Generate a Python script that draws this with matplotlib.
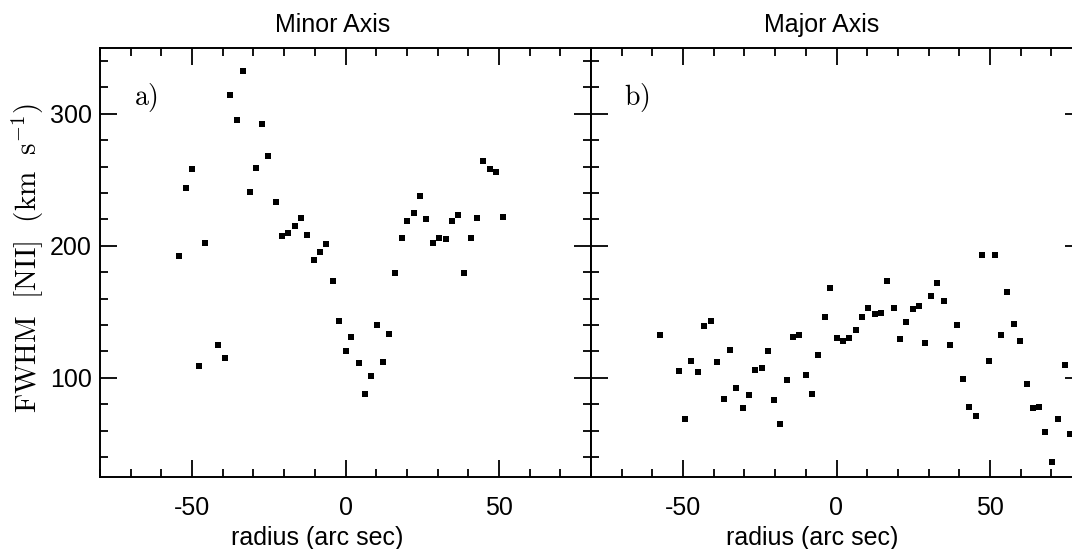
import matplotlib
matplotlib.use("Agg")
import matplotlib.pyplot as plt
from matplotlib.ticker import MultipleLocator

plt.rcParams["font.family"] = ["Liberation Sans", "DejaVu Sans"]
plt.rcParams["mathtext.fontset"] = "cm"
plt.rcParams["axes.unicode_minus"] = False

# panel a: minor axis
minor_r = [-54.1, -51.9, -50.0, -47.6, -45.7, -41.5, -39.4, -37.6, -35.5, -33.3,
           -31.2, -29.2, -27.3, -25.1, -22.7, -20.8, -18.6, -16.6, -14.6, -12.5,
           -10.3, -8.3, -6.3, -4.2, -2.2, 0.0, 1.9, 4.3, 6.2, 8.2,
           10.2, 12.3, 14.3, 16.2, 18.3, 20.2, 22.3, 24.4, 26.3, 28.4,
           30.6, 32.6, 34.6, 36.7, 38.7, 40.9, 43.0, 44.9, 47.1, 49.1, 51.3]
minor_fwhm = [192, 244, 258, 109, 202, 125, 115, 314, 295, 332,
              241, 259, 292, 268, 233, 207, 210, 215, 221, 208,
              189, 195, 201, 173, 143, 120, 131, 111, 88, 101,
              140, 112, 133, 179, 206, 219, 225, 238, 220, 202,
              206, 205, 219, 223, 179, 206, 221, 264, 258, 256, 222]

# panel b: major axis
major_r = [-57.6, -51.4, -49.3, -47.3, -45.2, -43.1, -41.0, -38.9, -36.8, -34.7,
           -32.7, -30.6, -28.4, -26.5, -24.4, -22.4, -20.4, -18.3, -16.2, -14.2,
           -12.2, -10.1, -8.0, -6.0, -3.9, -2.0, 0.1, 2.1, 4.2, 6.3,
           8.4, 10.4, 12.5, 14.6, 16.5, 18.7, 20.7, 22.8, 24.9, 26.9,
           29.0, 30.8, 32.9, 35.0, 37.1, 39.2, 41.3, 43.3, 45.4, 47.5,
           49.7, 51.5, 53.7, 55.7, 57.8, 59.8, 62.0, 64.0, 66.1, 68.1,
           70.1, 72.2, 74.3, 76.2]
major_fwhm = [132, 105, 69, 113, 104, 139, 143, 112, 84, 121,
              92, 77, 87, 106, 107, 120, 83, 65, 98, 131,
              132, 102, 88, 117, 146, 168, 130, 128, 130, 136,
              146, 153, 148, 149, 173, 153, 129, 142, 152, 154,
              126, 162, 172, 158, 125, 140, 99, 78, 71, 193,
              113, 193, 132, 165, 141, 128, 95, 77, 78, 59,
              36, 69, 110, 57]

W, H = 1072, 549
fig = plt.figure(figsize=(W / 100, H / 100), dpi=100)


def box(x0, y0, x1, y1):
    return [x0 / W, 1 - y1 / H, (x1 - x0) / W, (y1 - y0) / H]


ax1 = fig.add_axes(box(100, 47.7, 591, 476.7))
ax2 = fig.add_axes(box(591, 47.7, 1082, 476.7))

for ax, r, v, tag in [(ax1, minor_r, minor_fwhm, "a)"), (ax2, major_r, major_fwhm, "b)")]:
    ax.plot(r, v, "s", color="black", ms=5, mew=0)
    ax.set_xlim(-80, 80)
    ax.set_ylim(25, 350)
    ax.xaxis.set_major_locator(MultipleLocator(50))
    ax.xaxis.set_minor_locator(MultipleLocator(10))
    ax.yaxis.set_major_locator(MultipleLocator(100))
    ax.yaxis.set_minor_locator(MultipleLocator(20))
    ax.tick_params(which="both", direction="in", top=True, right=True,
                   width=1.3, color="black")
    ax.tick_params(which="major", length=12)
    ax.tick_params(which="minor", length=5.8)
    ax.tick_params(axis="x", which="major", pad=14, labelsize=18)
    ax.tick_params(axis="y", which="major", pad=6, labelsize=18)
    for s in ax.spines.values():
        s.set_linewidth(1.4)
    ax.text(0.094, 0.885, r"$\mathrm{" + tag + "}$", transform=ax.transAxes,
            ha="center", va="center", fontsize=20)

ax2.tick_params(axis="y", labelleft=False)

fig.text(333 / W, 1 - 32 / H, "Minor Axis", ha="center", va="baseline", fontsize=18)
fig.text(822 / W, 1 - 32 / H, "Major Axis", ha="center", va="baseline", fontsize=18)
fig.text(317 / W, 1 - 538 / H, "radius (arc sec)", ha="center", va="center", fontsize=18)
fig.text(812 / W, 1 - 538 / H, "radius (arc sec)", ha="center", va="center", fontsize=18)
fig.text(28 / W, 1 - 258 / H, r"$\mathrm{FWHM\ \ [NII]\ \ (km\ \ s^{-1})}$",
         rotation=90, ha="center", va="center", fontsize=21)

fig.savefig("out.png", dpi=100)
